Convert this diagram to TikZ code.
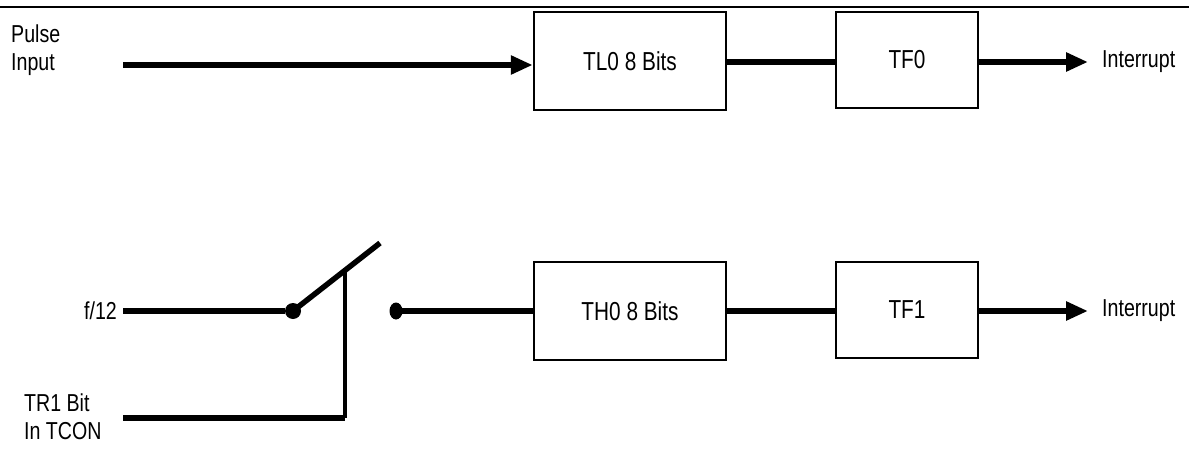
\documentclass[tikz,border=0pt]{standalone}
\usepackage{fontspec}
\setmainfont[FakeStretch=0.8]{Liberation Sans}
\usetikzlibrary{arrows.meta,shapes.geometric}
\begin{document}
\begin{tikzpicture}[x=1pt,y=-1pt,
  blk/.style={draw,line width=2.5pt,minimum width=192pt,minimum height=98pt,inner sep=0pt,font=\fontsize{26}{28}\selectfont},
  flag/.style={draw,line width=2.5pt,minimum width=142pt,minimum height=96pt,inner sep=0pt,font=\fontsize{26}{28}\selectfont},
  lbl/.style={font=\fontsize{24.5}{26}\selectfont,inner sep=0pt},
  wire/.style={line width=5.5pt},
  arr/.style={line width=5.5pt,-{Triangle[length=22pt,width=18pt]}},
  dotn/.style={circle,fill,inner sep=0pt,minimum width=16pt}]
\useasboundingbox (0,0) rectangle (1189,455);
\draw[line width=2pt] (0,7) -- (1189,7);
% top row
\node[lbl,align=left,anchor=west] (pulse) at (11,50) {Pulse\\[2pt]Input};
\coordinate (ps) at (123,65);
\node[blk] (tl0) at (630,61) {TL0 8 Bits};
\node[flag] (tf0) at (907,60) {TF0};
\node[lbl,anchor=west] (int0) at (1102,62) {Interrupt};
\draw[arr] (ps) -- (ps -| tl0.west);
\draw[wire] (tl0.east |- 0,62) -- (tf0.west |- 0,62);
\draw[arr] (tf0.east |- int0) -- ([xshift=-14pt]int0.west);
% bottom row
\node[lbl,anchor=east] (f12) at (117,311) {f/12};
\node[lbl,align=left,anchor=west] (tr1) at (24,417) {TR1 Bit\\[2pt]In TCON};
\node[dotn] (d1) at (293,311) {};
\node[ellipse,fill,inner sep=0pt,minimum width=13pt,minimum height=17pt] (d2) at (396,311) {};
\coordinate (lev) at (380,243);
\coordinate (jn) at (345,270);
\coordinate (corner) at (345,418);
\node[blk] (th0) at (630,311) {TH0 8 Bits};
\node[flag] (tf1) at (907,310) {TF1};
\node[lbl,anchor=west] (int1) at (1102,311) {Interrupt};
\draw[wire] (123,311) -- (d1);
\draw[wire] (d1.center) -- (lev);
\draw[line width=3.5pt] (jn) -- (corner);
\draw[wire] (123,418) -- (corner);
\draw[wire] (d2.center) -- (th0.west |- d2);
\draw[wire] (th0.east |- 0,311) -- (tf1.west |- 0,311);
\draw[arr] (tf1.east |- int1) -- ([xshift=-14pt]int1.west);
\end{tikzpicture}
\end{document}
